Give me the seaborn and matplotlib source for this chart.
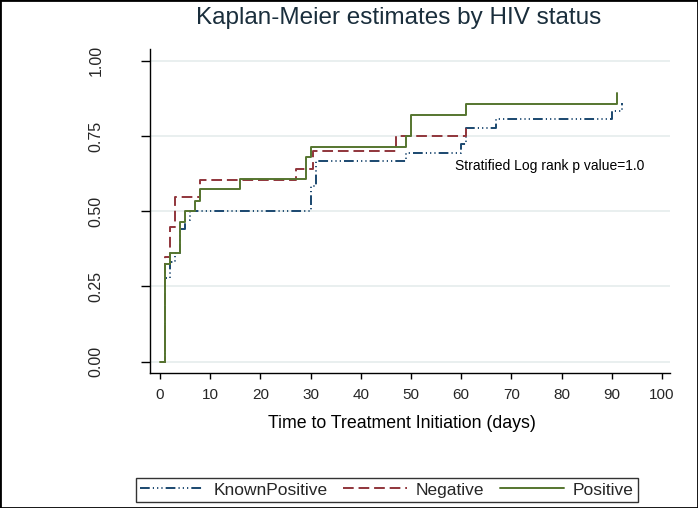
import numpy as np
import pandas as pd
import seaborn as sns
import matplotlib
matplotlib.use("Agg")
import matplotlib.pyplot as plt
from matplotlib.lines import Line2D
from matplotlib.patches import Rectangle

# ---- data (cumulative probability of treatment initiation) ----
series_names = ["KnownPositive", "Negative", "Positive"]

known_time = [0, 1, 2, 3, 4, 5, 6, 30, 31, 49, 60, 61, 67, 90, 92]
known_prob = [0, 0.277, 0.33, 0.36, 0.44, 0.47, 0.50, 0.583, 0.667, 0.692, 0.722, 0.778, 0.806, 0.833, 0.861]

neg_time = [0, 1, 2, 3, 8, 27, 30.5, 47, 61]
neg_prob = [0, 0.349, 0.449, 0.548, 0.604, 0.639, 0.70, 0.75, 0.78]

pos_time = [0, 1, 2, 4, 5, 7, 8, 16, 29, 30, 49, 50, 61, 91]
pos_prob = [0, 0.324, 0.36, 0.465, 0.50, 0.535, 0.573, 0.607, 0.679, 0.714, 0.75, 0.821, 0.857, 0.893]

x_ticks = list(range(0, 101, 10))
y_ticks = [0.0, 0.25, 0.5, 0.75, 1.0]
y_tick_labels = ["0.00", "0.25", "0.50", "0.75", "1.00"]

title_text = "Kaplan-Meier estimates by HIV status"
x_label = "Time to Treatment Initiation (days)"
annot_text = "Stratified Log rank p value=1.0"

# ---- style ----
sns.set_theme(style="white")
plt.rcParams["font.family"] = ["Liberation Sans", "DejaVu Sans"]

colors = {"KnownPositive": "#1a476f", "Negative": "#90353b", "Positive": "#55752f"}
styles = {
    "KnownPositive": (0, (5.0, 1.6, 0.6, 1.6, 0.6, 1.6, 0.6, 1.6)),
    "Negative": (0, (5.5, 2.5)),
    "Positive": "-",
}

fig = plt.figure(figsize=(6.98, 5.08), dpi=100)
ax = fig.add_axes([150 / 698, 1 - 373 / 508, 520 / 698, (373 - 49) / 508])

data = {
    "KnownPositive": (known_time, known_prob),
    "Negative": (neg_time, neg_prob),
    "Positive": (pos_time, pos_prob),
}

for name in series_names:
    t, p = data[name]
    df = pd.DataFrame({"time": t, "prob": p})
    sns.lineplot(data=df, x="time", y="prob", ax=ax, estimator=None, sort=True,
                 drawstyle="steps-post", color=colors[name], linestyle=styles[name],
                 linewidth=1.4, legend=False)

ax.set_xlim(-2, 101.6)
ax.set_ylim(-0.0375, 1.039)
ax.set_xticks(x_ticks)
ax.set_yticks(y_ticks)
ax.set_yticklabels(y_tick_labels, rotation=90, va="center")
ax.yaxis.grid(True, color="#e3ebeb", linewidth=1.1)
ax.set_axisbelow(True)
for s in ["top", "right"]:
    ax.spines[s].set_visible(False)
for s in ["left", "bottom"]:
    ax.spines[s].set_color("black")
    ax.spines[s].set_linewidth(1.0)

ax.tick_params(axis="x", direction="out", length=4.5, width=1, color="black",
               labelsize=11, pad=6, bottom=True)
ax.tick_params(axis="y", direction="out", length=6.5, width=1, color="black",
               labelsize=11.5, pad=27, left=True)
ax.set_xlabel(x_label, fontsize=12.8, color="black")
ax.xaxis.set_label_coords((402 - 150) / 520, -(423 - 373) / 324)
ax.xaxis.label.set_va("center")
ax.set_ylabel("")

ax.text(58.8, 0.637, annot_text, fontsize=10, ha="left", va="baseline", color="black")

fig.text(398.5 / 698, 1 - 18 / 508, title_text, fontsize=17.5, ha="center", va="center",
         color="#1a2e3c")

handles = [Line2D([0], [0], color=colors[n], linestyle=styles[n], linewidth=1.4)
           for n in series_names]
leg = fig.legend(handles, series_names, loc="center", bbox_to_anchor=(387 / 698, 1 - 490 / 508),
                 ncol=3, fontsize=12.5, frameon=True, fancybox=False, handlelength=3.7,
                 handletextpad=0.5, columnspacing=0.9, borderpad=0.25)
leg.get_frame().set_edgecolor("black")
leg.get_frame().set_linewidth(1.0)

fig.patches.append(Rectangle((0, 0), 1, 1, transform=fig.transFigure, fill=False,
                             edgecolor="black", linewidth=2.0))

fig.savefig("out.png", dpi=100)
